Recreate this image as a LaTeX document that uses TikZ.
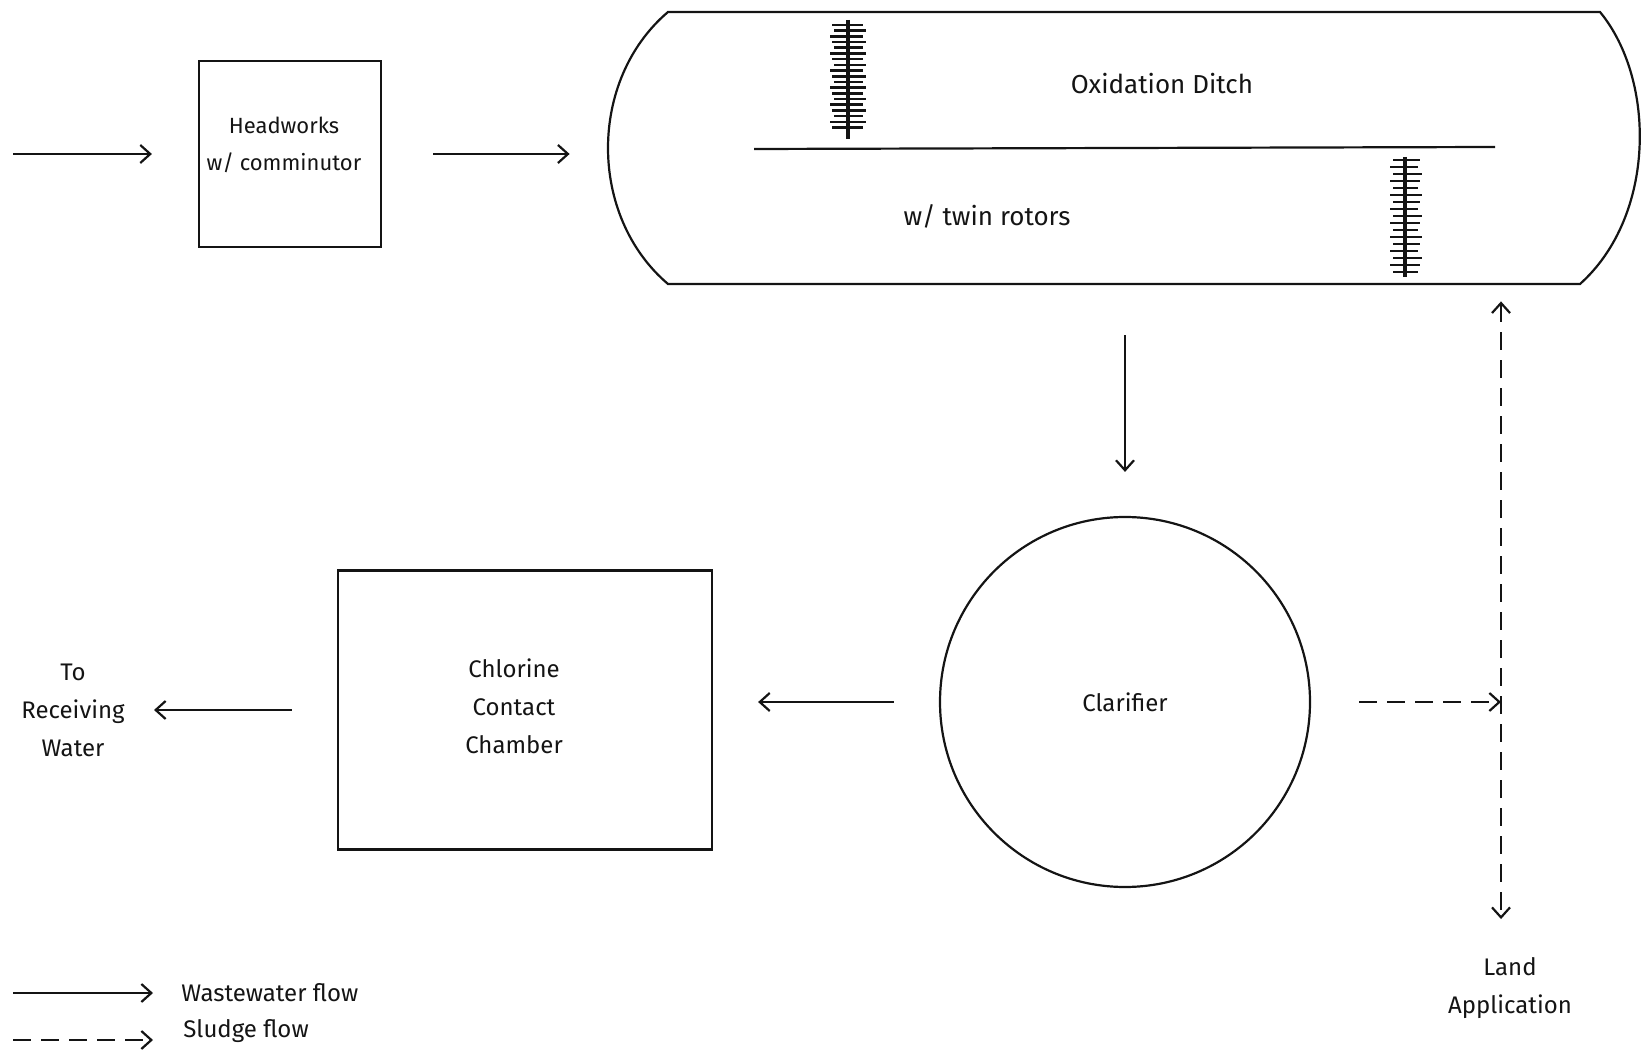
\documentclass[tikz,border=0pt]{standalone}
\usepackage{fontspec}
\setmainfont{Fira Sans}
\usetikzlibrary{arrows.meta}
\definecolor{ink}{HTML}{141414}
\tikzset{
  every node/.style={font=\fontsize{12}{19}\selectfont,text=ink},
  wall/.style={draw=ink,line width=1.1pt},
  flow/.style={>={Straight Barb[length=5pt,width=9pt]},->,line width=1.1pt,draw=ink},
  sludge/.style={flow,dash pattern=on 9pt off 5pt},
  unit/.style={wall,align=center,inner sep=0},
  lbl/.style={align=center,inner sep=0},
  spine/.style={draw=ink,line width=1.7pt},
  paddle/.style={draw=ink,line width=1.3pt}
}
\begin{document}
\begin{tikzpicture}[x=0.5pt,y=-0.5pt]
\path[use as bounding box] (0,0) rectangle (1642,1052);
% oxidation ditch
\node[inner sep=0,minimum width=515.5pt,minimum height=136pt] (ditch) at (1123.5,148) {};
\draw[wall] (668,12) -- (1600,12) .. controls (1656,80) and (1656,216) .. (1580,284)
  -- (668,284) .. controls (588,216) and (588,80) .. (668,12) -- cycle;
\draw[wall] (754,149) -- (1495,147);
\node[lbl,font=\fontsize{13}{16}\selectfont] (ditchname) at (1162,84) {Oxidation Ditch};
\node[lbl,font=\fontsize{13}{16}\selectfont] (ditchnote) at (987,216) {w/ twin rotors};
% rotors
\draw[spine] (848,20) -- (848,139);
\foreach \ty [count=\i] in {25,30.7,...,129}
  \draw[paddle] ({830+mod(\i,3)*2},\ty) -- ({866-mod(\i,2)*3},\ty);
\draw[spine] (1405,157) -- (1405,277);
\foreach \ty [count=\i] in {160,167,...,273}
  \draw[paddle] ({1390+mod(\i,2)*3},\ty) -- ({1422-mod(\i,3)*2},\ty);
% process units
\node[unit,minimum width=91pt,minimum height=93pt] (headworks) at (290,154) {};
\node[lbl,font=\fontsize{11}{18.5}\selectfont] (headworkstext) at (284,145) {Headworks\\w/ comminutor};
\node[unit,circle,minimum size=185pt] (clarifier) at (1125,702) {Clarifier};
\node[unit,minimum width=187pt,minimum height=139.5pt] (chlorine) at (525,710) {};
\node[lbl] (chlorinetext) at (514,706) {Chlorine\\Contact\\Chamber};
\node[lbl] (receiving) at (73,710) {To\\Receiving\\Water};
\node[lbl] (land) at (1510,988) {Land\\Application};
\coordinate (inflow) at (13,154);
\coordinate (junction) at (1501,703);
% wastewater flow
\draw[flow,shorten >=23pt] (inflow) -- (headworks.west);
\draw[flow,shorten <=25.5pt,shorten >=19pt] (headworks.east) -- (headworks.east -| ditch.west);
\draw[flow,shorten <=25.5pt,shorten >=22pt] (clarifier.north |- ditch.south) -- (clarifier.north);
\draw[flow,shorten <=22.5pt,shorten >=22.5pt] (clarifier.west) -- (clarifier.west -| chlorine.east);
\draw[flow,shorten <=22.5pt,shorten >=14.5pt] (chlorine.west) -- (chlorine.west -| receiving.east);
% sludge flow
\draw[sludge,shorten <=24pt] (clarifier.east) -- (clarifier.east -| junction);
\draw[sludge,<->,shorten <=8.5pt,shorten >=19pt] (junction |- ditch.south) -- (junction |- land.north);
% legend
\node[lbl,anchor=west] (legww) at (181,993) {Wastewater flow};
\node[lbl,anchor=west] (legsl) at (183,1031) {Sludge flow};
\coordinate (legwwstart) at (13,993);
\coordinate (legslstart) at (13,1040);
\draw[flow,shorten >=14pt] (legwwstart) -- (legww.west);
\draw[sludge,shorten >=15pt] (legslstart) -- (legslstart -| legsl.west);
\end{tikzpicture}
\end{document}
